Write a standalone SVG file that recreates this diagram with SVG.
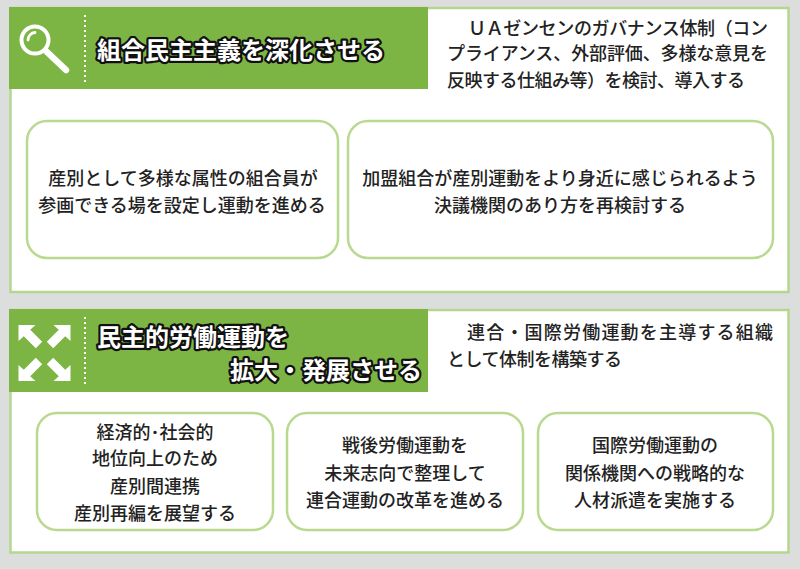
<svg xmlns="http://www.w3.org/2000/svg" xmlns:xlink="http://www.w3.org/1999/xlink" width="800" height="569" viewBox="0 0 800 569">
<style>
.panel{fill:#ffffff;stroke:#b5d68f;stroke-width:2.5}
.hdr{fill:#7db545}
.box{fill:#ffffff;stroke:#b8d98f;stroke-width:2.5}
.title{font-family:"Noto Sans CJK JP","Noto Sans",sans-serif;font-size:24px;font-weight:700;fill:#ffffff;stroke:#111111;stroke-width:4.5;stroke-linejoin:round;paint-order:stroke fill}
.body{font-family:"Noto Sans CJK JP","Noto Sans",sans-serif;font-size:18px;font-weight:500;fill:#222222}
.mid{text-anchor:middle}
.dots{stroke:#ffffff;stroke-width:2;stroke-dasharray:2 3;fill:none}
</style>
<defs>
<path id="arr" d="M-26,-28 L-9,-28 L-14.3,-23.2 L-2.3,-11.2 L-8.7,-4.8 L-20.7,-16.8 L-26,-12 Z" fill="#ffffff"/>
</defs>
<rect x="0" y="0" width="800" height="569" fill="#dcdedd"/>

<g id="section1">
<rect class="panel" x="10.5" y="8" width="778" height="284"/>
<rect class="hdr" x="9" y="7" width="419" height="82"/>
<g id="icon-magnifier">
<circle cx="35" cy="40" r="13.5" fill="none" stroke="#ffffff" stroke-width="4"/>
<path d="M28,40 A7.5,7.5 0 0 1 35,32.5" fill="none" stroke="#ffffff" stroke-width="2.8" stroke-linecap="round"/>
<line x1="47" y1="52" x2="66" y2="70" stroke="#ffffff" stroke-width="6.5" stroke-linecap="round"/>
</g>
<line class="dots" x1="85" y1="15" x2="85" y2="82"/>
<text class="title" x="97" y="59">組合民主主義を深化させる</text>
<g id="s1-desc" class="body">
<text x="468" y="34.5" textLength="300" lengthAdjust="spacing">ＵＡゼンセンのガバナンス体制（コン</text>
<text x="447" y="60" textLength="321" lengthAdjust="spacing">プライアンス、外部評価、多様な意見を</text>
<text x="447" y="87" textLength="298" lengthAdjust="spacing">反映する仕組み等）を検討、導入する</text>
</g>
</g>

<g id="nodeA">
<rect class="box" x="27" y="121" width="311" height="137" rx="20"/>
<text class="body mid" x="183" y="185">産別として多様な属性の組合員が</text>
<text class="body mid" x="182" y="212">参画できる場を設定し運動を進める</text>
</g>
<g id="nodeB">
<rect class="box" x="348" y="121" width="425" height="137" rx="20"/>
<text class="body mid" x="560" y="185">加盟組合が産別運動をより身近に感じられるよう</text>
<text class="body mid" x="560" y="212">決議機関のあり方を再検討する</text>
</g>

<g id="section2">
<rect class="panel" x="10.5" y="310" width="778" height="242.5"/>
<rect class="hdr" x="9" y="309" width="419" height="83"/>
<g id="icon-expand" transform="translate(44.5,353)">
<use xlink:href="#arr"/>
<use xlink:href="#arr" transform="scale(-1,1)"/>
<use xlink:href="#arr" transform="scale(1,-1)"/>
<use xlink:href="#arr" transform="scale(-1,-1)"/>
</g>
<line class="dots" x1="85" y1="317" x2="85" y2="385"/>
<text class="title" x="97" y="346">民主的労働運動を</text>
<text class="title" x="422" y="379" text-anchor="end">拡大・発展させる</text>
<g id="s2-desc" class="body">
<text x="467" y="339" textLength="306" lengthAdjust="spacing">連合・国際労働運動を主導する組織</text>
<text x="447" y="366" textLength="175" lengthAdjust="spacing">として体制を構築する</text>
</g>
</g>

<g id="nodeC">
<rect class="box" x="37" y="413" width="236" height="117" rx="20"/>
<text class="body mid" x="155" y="439">経済的･社会的</text>
<text class="body mid" x="155" y="465">地位向上のため</text>
<text class="body mid" x="155" y="493">産別間連携</text>
<text class="body mid" x="155" y="520">産別再編を展望する</text>
</g>
<g id="nodeD">
<rect class="box" x="287" y="413" width="236" height="117" rx="20"/>
<text class="body mid" x="405" y="452">戦後労働運動を</text>
<text class="body mid" x="405" y="480">未来志向で整理して</text>
<text class="body mid" x="405" y="507">連合運動の改革を進める</text>
</g>
<g id="nodeE">
<rect class="box" x="538" y="413" width="235" height="117" rx="20"/>
<text class="body mid" x="655" y="452">国際労働運動の</text>
<text class="body mid" x="655" y="480">関係機関への戦略的な</text>
<text class="body mid" x="655" y="507">人材派遣を実施する</text>
</g>

<g id="connectors"/>
</svg>
